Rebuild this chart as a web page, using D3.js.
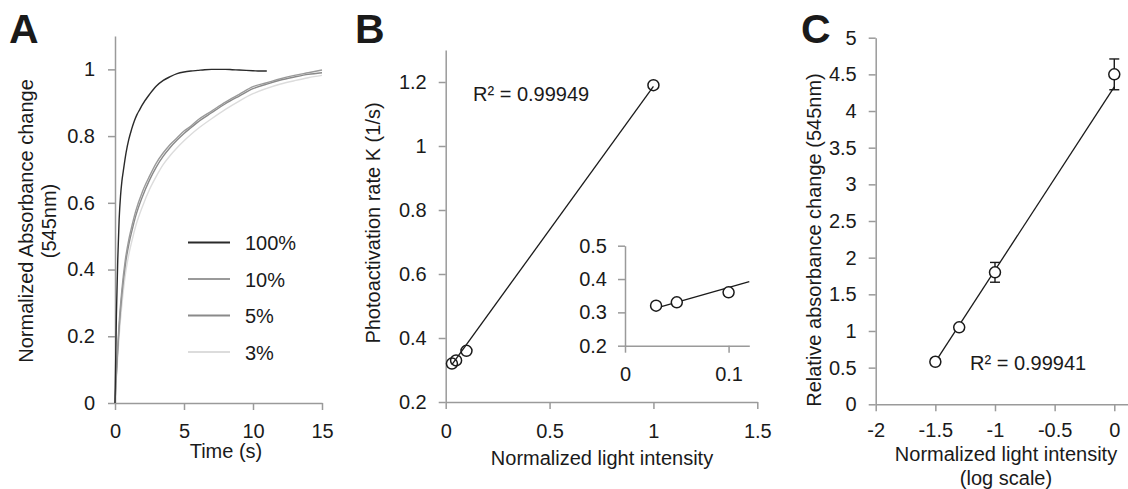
<!DOCTYPE html>
<html>
<head>
<script src="https://d3js.org/d3.v7.min.js"></script>
<style>
  body { margin: 0; background: #fff; }
  text { font-family: "Liberation Sans", Arial, sans-serif; fill: #1a1a1a; }
</style>
</head>
<body>
<svg width="1128" height="489"></svg>
<script>
// ---- panel A: kinetics traces ----
const tFast = [0, 0.1, 0.2, 0.3, 0.4, 0.5, 0.6, 0.8, 1.0, 1.2, 1.4, 1.6, 1.8, 2.0, 2.5, 3, 3.5, 4, 4.5, 5, 5.5, 6, 6.5, 7, 7.5, 8, 8.5, 9, 9.5, 10, 10.5, 11];
const a100 = [0, 0.26, 0.43, 0.55, 0.62, 0.665, 0.695, 0.75, 0.79, 0.82, 0.845, 0.865, 0.88, 0.895, 0.925, 0.95, 0.967, 0.978, 0.987, 0.992, 0.995, 0.997, 0.999, 1.0, 1.0, 1.0, 0.999, 0.998, 0.997, 0.996, 0.995, 0.995];
const tSlow = [0, 0.1, 0.2, 0.3, 0.5, 0.75, 1, 1.25, 1.5, 2, 2.5, 3, 3.5, 4, 4.5, 5, 5.5, 6, 7, 8, 9, 10, 11, 12, 13, 14, 15];
const a10 = [0, 0.09, 0.17, 0.24, 0.34, 0.43, 0.49, 0.535, 0.575, 0.635, 0.68, 0.72, 0.75, 0.775, 0.795, 0.815, 0.83, 0.848, 0.875, 0.902, 0.925, 0.948, 0.96, 0.972, 0.982, 0.99, 0.998];
const a5 = [0, 0.085, 0.16, 0.225, 0.325, 0.415, 0.475, 0.52, 0.56, 0.62, 0.668, 0.708, 0.74, 0.766, 0.788, 0.808, 0.825, 0.842, 0.87, 0.897, 0.92, 0.942, 0.956, 0.968, 0.977, 0.985, 0.99];
const a3 = [0, 0.075, 0.14, 0.2, 0.295, 0.385, 0.445, 0.49, 0.53, 0.59, 0.64, 0.68, 0.715, 0.742, 0.765, 0.786, 0.805, 0.822, 0.852, 0.88, 0.905, 0.927, 0.943, 0.956, 0.966, 0.975, 0.982];
const legendLabels = ["100%", "10%", "5%", "3%"];
const traceColors = ["#2a2a2a", "#9a9a9a", "#8a8a8a", "#dcdcdc"];

// ---- panel B: rate vs intensity ----
const intensityB = [0.03, 0.05, 0.1, 1.0];
const rateB = [0.32, 0.33, 0.36, 1.19];
const fitB = [[0.03, 0.317], [1.0, 1.186]];
const fitInset = [[0.03, 0.313], [0.12, 0.392]];
const r2B = "R\u00b2 = 0.99949";

// ---- panel C: absorbance vs log intensity ----
const logIntensityC = [-1.5, -1.3, -1, 0];
const absC = [0.58, 1.05, 1.8, 4.5];
const errC = [0.04, 0.0, 0.135, 0.21];
const fitC = [[-1.5, 0.58], [0, 4.33]];
const r2C = "R\u00b2 = 0.99941";

const svg = d3.select("svg");
const FS = 20;
const axisColor = "#9a9a9a";
const fmt = d => String(+d.toFixed(2));

function styleAxis(g) {
  g.select(".domain").attr("stroke", axisColor).attr("stroke-width", 1.5);
  g.selectAll(".tick line").attr("stroke", axisColor).attr("stroke-width", 1.5);
  g.selectAll(".tick text").attr("font-size", FS).attr("fill", "#1a1a1a")
    .style("font-family", "'Liberation Sans', Arial, sans-serif");
}

function drawAxes(x, y, xTicks, yTicks, xPad, yPad, tick) {
  const ax = svg.append("g")
    .attr("transform", "translate(0," + y.range()[0] + ")")
    .call(d3.axisBottom(x).tickValues(xTicks).tickFormat(fmt)
      .tickSize(tick).tickSizeOuter(0).tickPadding(xPad));
  styleAxis(ax);
  const ay = svg.append("g")
    .attr("transform", "translate(" + x.range()[0] + ",0)")
    .call(d3.axisLeft(y).tickValues(yTicks).tickFormat(fmt)
      .tickSize(tick).tickSizeOuter(0).tickPadding(yPad));
  styleAxis(ay);
}

function panelLetter(txt, x) {
  svg.append("text").attr("x", x).attr("y", 43)
    .attr("font-size", 41).attr("font-weight", "bold").attr("fill", "#000")
    .text(txt);
}

// ================= A =================
const xA = d3.scaleLinear().domain([0, 15]).range([115, 322]);
const yA = d3.scaleLinear().domain([0, 1.1]).range([403, 36]);
drawAxes(xA, yA, [0, 5, 10, 15], [0, 0.2, 0.4, 0.6, 0.8, 1], 14, 13, 7);

const lineA = d3.line().x(d => xA(d[0])).y(d => yA(d[1])).curve(d3.curveMonotoneX);
const traces = [
  { t: tSlow, v: a3, c: traceColors[3] },
  { t: tSlow, v: a5, c: traceColors[2] },
  { t: tSlow, v: a10, c: traceColors[1] },
  { t: tFast, v: a100, c: traceColors[0] }
];
traces.forEach(s => {
  svg.append("path")
    .datum(s.t.map((t, i) => [t, s.v[i]]))
    .attr("d", lineA).attr("fill", "none")
    .attr("stroke", s.c).attr("stroke-width", 1.4);
});

legendLabels.forEach((lab, i) => {
  const ly = 242.5 + i * 36.5;
  svg.append("line").attr("x1", 188).attr("x2", 230).attr("y1", ly).attr("y2", ly)
    .attr("stroke", traceColors[i]).attr("stroke-width", 1.8);
  svg.append("text").attr("x", 245).attr("y", ly + 7.5).attr("font-size", FS).text(lab);
});

svg.append("text").attr("x", 226).attr("y", 458).attr("text-anchor", "middle")
  .attr("font-size", FS).text("Time (s)");
svg.append("text").attr("transform", "translate(33,221) rotate(-90)")
  .attr("text-anchor", "middle").attr("font-size", FS).text("Normalized Absorbance change");
svg.append("text").attr("transform", "translate(56,221) rotate(-90)")
  .attr("text-anchor", "middle").attr("font-size", FS).text("(545nm)");
panelLetter("A", 9);

// ================= B =================
const xB = d3.scaleLinear().domain([0, 1.5]).range([445.7, 757.3]);
const yB = d3.scaleLinear().domain([0.2, 1.3]).range([402, 50]);
drawAxes(xB, yB, [0, 0.5, 1, 1.5], [0.2, 0.4, 0.6, 0.8, 1, 1.2], 15, 12, 7);

svg.append("line")
  .attr("x1", xB(fitB[0][0])).attr("y1", yB(fitB[0][1]))
  .attr("x2", xB(fitB[1][0])).attr("y2", yB(fitB[1][1]))
  .attr("stroke", "#1a1a1a").attr("stroke-width", 1.3);
svg.selectAll("circle.b").data(intensityB).enter().append("circle")
  .attr("class", "b")
  .attr("cx", d => xB(d)).attr("cy", (d, i) => yB(rateB[i])).attr("r", 5.5)
  .attr("fill", "#fff").attr("fill-opacity", 0).attr("stroke", "#1a1a1a").attr("stroke-width", 1.5);
svg.append("text").attr("x", 473).attr("y", 101).attr("font-size", FS).text(r2B);

// inset
const xI = d3.scaleLinear().domain([0, 0.12]).range([625, 749.3]);
const yI = d3.scaleLinear().domain([0.2, 0.5]).range([345.7, 245.7]);
drawAxes(xI, yI, [0, 0.1], [0.2, 0.3, 0.4, 0.5], 14, 11, 7);
svg.append("line")
  .attr("x1", xI(fitInset[0][0])).attr("y1", yI(fitInset[0][1]))
  .attr("x2", xI(fitInset[1][0])).attr("y2", yI(fitInset[1][1]))
  .attr("stroke", "#1a1a1a").attr("stroke-width", 1.3);
svg.selectAll("circle.i").data(intensityB.slice(0, 3)).enter().append("circle")
  .attr("class", "i")
  .attr("cx", d => xI(d)).attr("cy", (d, i) => yI(rateB[i])).attr("r", 5.5)
  .attr("fill", "#fff").attr("stroke", "#1a1a1a").attr("stroke-width", 1.5);

svg.append("text").attr("x", 602).attr("y", 465).attr("text-anchor", "middle")
  .attr("font-size", FS).text("Normalized light intensity");
svg.append("text").attr("transform", "translate(380,223) rotate(-90)")
  .attr("text-anchor", "middle").attr("font-size", FS).text("Photoactivation rate K (1/s)");
panelLetter("B", 355);

// ================= C =================
const xC = d3.scaleLinear().domain([-2, 0.115]).range([875.7, 1128]);
const yC = d3.scaleLinear().domain([0, 5]).range([404.3, 37.7]);
drawAxes(xC, yC, [-2, -1.5, -1, -0.5, 0], [0, 0.5, 1, 1.5, 2, 2.5, 3, 3.5, 4, 4.5, 5], 12, 12, 7);

svg.append("line")
  .attr("x1", xC(fitC[0][0])).attr("y1", yC(fitC[0][1]))
  .attr("x2", xC(fitC[1][0])).attr("y2", yC(fitC[1][1]))
  .attr("stroke", "#1a1a1a").attr("stroke-width", 1.3);

logIntensityC.forEach((d, i) => {
  if (errC[i] <= 0) return;
  const cx = xC(d);
  const g = svg.append("g").attr("stroke", "#1a1a1a").attr("stroke-width", 1.4);
  g.append("line").attr("x1", cx).attr("x2", cx)
    .attr("y1", yC(absC[i] - errC[i])).attr("y2", yC(absC[i] + errC[i]));
  [absC[i] - errC[i], absC[i] + errC[i]].forEach(v => {
    g.append("line").attr("x1", cx - 5).attr("x2", cx + 5).attr("y1", yC(v)).attr("y2", yC(v));
  });
});
svg.selectAll("circle.c").data(logIntensityC).enter().append("circle")
  .attr("class", "c")
  .attr("cx", d => xC(d)).attr("cy", (d, i) => yC(absC[i])).attr("r", 5.5)
  .attr("fill", "#fff").attr("stroke", "#1a1a1a").attr("stroke-width", 1.5);
svg.append("text").attr("x", 970).attr("y", 370).attr("font-size", FS).text(r2C);

svg.append("text").attr("x", 1006).attr("y", 461).attr("text-anchor", "middle")
  .attr("font-size", FS).text("Normalized light intensity");
svg.append("text").attr("x", 1006).attr("y", 485).attr("text-anchor", "middle")
  .attr("font-size", FS).text("(log scale)");
svg.append("text").attr("transform", "translate(821,240) rotate(-90)")
  .attr("text-anchor", "middle").attr("font-size", FS).text("Relative absorbance change (545nm)");
panelLetter("C", 801);
</script>
</body>
</html>
